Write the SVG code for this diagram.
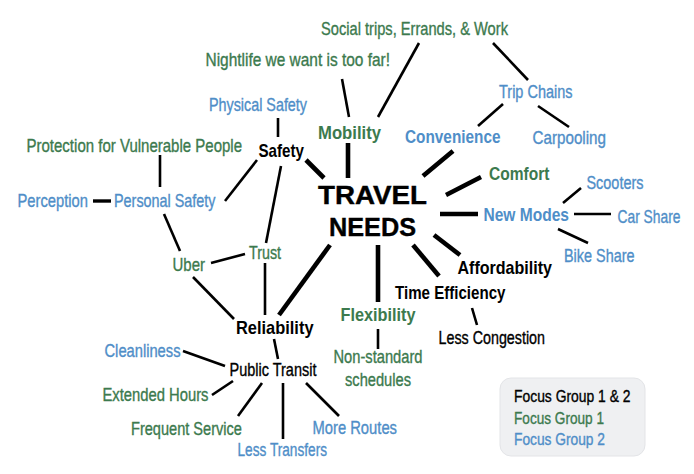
<svg xmlns="http://www.w3.org/2000/svg" width="694" height="474" viewBox="0 0 694 474">
<style>
text{font-family:"Liberation Sans",Arial,sans-serif;font-size:18px;stroke-width:0.35px}
.g{fill:#3c7a4e;stroke:#3c7a4e}.b{fill:#4f8ec8;stroke:#4f8ec8}.k{fill:#000;stroke:#000}
.bd{font-weight:bold;stroke-width:0}
.hub{font-family:"Liberation Sans",Arial,sans-serif;font-weight:900;font-size:26px;fill:#000;stroke:#000;stroke-width:0.4px}
.lg{font-size:16.5px}
.th{stroke:#000;stroke-width:2.6;fill:none}
.tk{stroke:#000;stroke-width:4.6;fill:none}
</style>
<rect width="694" height="474" fill="#fff"/>
<g id="connectors">
<line class="th" x1="342" y1="79" x2="349" y2="117"/>
<line class="th" x1="419" y1="43" x2="378" y2="117"/>
<line class="th" x1="493" y1="43" x2="528" y2="80"/>
<line class="th" x1="503" y1="104" x2="478" y2="126"/>
<line class="th" x1="538" y1="106" x2="569" y2="127"/>
<line class="th" x1="278" y1="118" x2="278" y2="137"/>
<line class="tk" x1="306" y1="160" x2="324" y2="178"/>
<line class="tk" x1="348" y1="143" x2="348" y2="178"/>
<line class="tk" x1="453" y1="151" x2="423" y2="176"/>
<line class="tk" x1="481" y1="177" x2="446" y2="195"/>
<line class="tk" x1="440" y1="214" x2="478" y2="214"/>
<line class="tk" x1="434" y1="235" x2="460" y2="255"/>
<line class="tk" x1="413" y1="245" x2="439" y2="276"/>
<line class="tk" x1="378" y1="245" x2="378" y2="302"/>
<line class="tk" x1="330" y1="245" x2="279" y2="315"/>
<line class="th" x1="160" y1="155" x2="160" y2="187"/>
<line class="th" x1="93" y1="201" x2="111" y2="201" style="stroke-width:3.4"/>
<line class="th" x1="257" y1="160" x2="225" y2="201"/>
<line class="th" x1="281" y1="166" x2="266" y2="243"/>
<line class="th" x1="164" y1="214" x2="180" y2="251"/>
<line class="th" x1="563" y1="203" x2="581" y2="188"/>
<line class="th" x1="574" y1="214" x2="611" y2="214"/>
<line class="th" x1="558" y1="229" x2="588" y2="243"/>
<line class="th" x1="472" y1="308" x2="477" y2="325"/>
<line class="th" x1="378" y1="329" x2="378" y2="349"/>
<line class="th" x1="211" y1="263" x2="245" y2="254"/>
<line class="th" x1="193" y1="277" x2="234" y2="319"/>
<line class="th" x1="265" y1="263" x2="265" y2="315"/>
<line class="th" x1="274" y1="339" x2="278" y2="359"/>
<line class="th" x1="183" y1="351" x2="225" y2="366"/>
<line class="th" x1="212" y1="395" x2="233" y2="381"/>
<line class="th" x1="238" y1="416" x2="262" y2="383"/>
<line class="th" x1="283" y1="383" x2="283" y2="439"/>
<line class="th" x1="306" y1="383" x2="339" y2="416"/>
</g>
<g id="hub"><text class="hub" x="318" y="204" textLength="109" lengthAdjust="spacingAndGlyphs">TRAVEL</text><text class="hub" x="329" y="236" textLength="87" lengthAdjust="spacingAndGlyphs">NEEDS</text></g>
<g id="social"><text class="g" transform="matrix(0.8 0 0 1 321 35)" textLength="233.7" lengthAdjust="spacingAndGlyphs">Social trips, Errands, &amp; Work</text></g>
<g id="nightlife"><text class="g" transform="matrix(0.8 0 0 1 205.5 65.5)" textLength="230.6" lengthAdjust="spacingAndGlyphs">Nightlife we want is too far!</text></g>
<g id="physical"><text class="b" transform="matrix(0.8 0 0 1 209 110.5)" textLength="122.5" lengthAdjust="spacingAndGlyphs">Physical Safety</text></g>
<g id="tripchains"><text class="b" transform="matrix(0.8 0 0 1 499 98)" textLength="91.9" lengthAdjust="spacingAndGlyphs">Trip Chains</text></g>
<g id="mobility"><text class="g bd" transform="matrix(0.8 0 0 1 318 139)" textLength="78.7" lengthAdjust="spacingAndGlyphs">Mobility</text></g>
<g id="convenience"><text class="b bd" transform="matrix(0.8 0 0 1 405 143)" textLength="119.4" lengthAdjust="spacingAndGlyphs">Convenience</text></g>
<g id="carpooling"><text class="b" transform="matrix(0.8 0 0 1 532.5 143.5)" textLength="91.9" lengthAdjust="spacingAndGlyphs">Carpooling</text></g>
<g id="protection"><text class="g" transform="matrix(0.8 0 0 1 26.5 151.5)" textLength="269.4" lengthAdjust="spacingAndGlyphs">Protection for Vulnerable People</text></g>
<g id="safety"><text class="k bd" transform="matrix(0.8 0 0 1 258.5 156.5)" textLength="56.9" lengthAdjust="spacingAndGlyphs">Safety</text></g>
<g id="comfort"><text class="g bd" transform="matrix(0.8 0 0 1 489 180)" textLength="75.6" lengthAdjust="spacingAndGlyphs">Comfort</text></g>
<g id="scooters"><text class="b" transform="matrix(0.8 0 0 1 586.5 189)" textLength="71.2" lengthAdjust="spacingAndGlyphs">Scooters</text></g>
<g id="perception"><text class="b" transform="matrix(0.8 0 0 1 17.5 206.5)" textLength="88.1" lengthAdjust="spacingAndGlyphs">Perception</text></g>
<g id="personal"><text class="b" transform="matrix(0.8 0 0 1 114 206.5)" textLength="126.9" lengthAdjust="spacingAndGlyphs">Personal Safety</text></g>
<g id="newmodes"><text class="b bd" transform="matrix(0.8 0 0 1 483.5 221)" textLength="106.9" lengthAdjust="spacingAndGlyphs">New Modes</text></g>
<g id="carshare"><text class="b" transform="matrix(0.8 0 0 1 617.5 222.5)" textLength="78.7" lengthAdjust="spacingAndGlyphs">Car Share</text></g>
<g id="trust"><text class="g" transform="matrix(0.8 0 0 1 249 259)" textLength="40" lengthAdjust="spacingAndGlyphs">Trust</text></g>
<g id="bikeshare"><text class="b" transform="matrix(0.8 0 0 1 564 262)" textLength="88.1" lengthAdjust="spacingAndGlyphs">Bike Share</text></g>
<g id="uber"><text class="g" transform="matrix(0.8 0 0 1 172.5 271)" textLength="40.6" lengthAdjust="spacingAndGlyphs">Uber</text></g>
<g id="affordability"><text class="k bd" transform="matrix(0.8 0 0 1 457.5 274)" textLength="118.1" lengthAdjust="spacingAndGlyphs">Affordability</text></g>
<g id="timeefficiency"><text class="k bd" transform="matrix(0.8 0 0 1 395 299)" textLength="138.1" lengthAdjust="spacingAndGlyphs">Time Efficiency</text></g>
<g id="flexibility"><text class="g bd" transform="matrix(0.8 0 0 1 340.5 320.5)" textLength="93.7" lengthAdjust="spacingAndGlyphs">Flexibility</text></g>
<g id="reliability"><text class="k bd" transform="matrix(0.8 0 0 1 236 334)" textLength="96.9" lengthAdjust="spacingAndGlyphs">Reliability</text></g>
<g id="lesscongestion"><text class="k" transform="matrix(0.8 0 0 1 438.5 344)" textLength="133.1" lengthAdjust="spacingAndGlyphs">Less Congestion</text></g>
<g id="cleanliness"><text class="b" transform="matrix(0.8 0 0 1 104.5 356.5)" textLength="95" lengthAdjust="spacingAndGlyphs">Cleanliness</text></g>
<g id="nonstandard"><text class="g" transform="matrix(0.8 0 0 1 333.5 363)" textLength="111.2" lengthAdjust="spacingAndGlyphs">Non-standard</text><text class="g" transform="matrix(0.8 0 0 1 345 385.5)" textLength="82.5" lengthAdjust="spacingAndGlyphs">schedules</text></g>
<g id="publictransit"><text class="k" transform="matrix(0.8 0 0 1 229.5 376)" textLength="108.7" lengthAdjust="spacingAndGlyphs">Public Transit</text></g>
<g id="extended"><text class="g" transform="matrix(0.8 0 0 1 102.5 400.5)" textLength="132.5" lengthAdjust="spacingAndGlyphs">Extended Hours</text></g>
<g id="frequent"><text class="g" transform="matrix(0.8 0 0 1 131 435)" textLength="138.7" lengthAdjust="spacingAndGlyphs">Frequent Service</text></g>
<g id="moreroutes"><text class="b" transform="matrix(0.8 0 0 1 312.5 434)" textLength="105.6" lengthAdjust="spacingAndGlyphs">More Routes</text></g>
<g id="lesstransfers"><text class="b" transform="matrix(0.8 0 0 1 237.5 456)" textLength="111.9" lengthAdjust="spacingAndGlyphs">Less Transfers</text></g>
<g id="legend">
<rect x="500" y="378" width="145" height="78" rx="11" fill="#eff0f2" stroke="#e3e4e7" stroke-width="1"/>
<text class="k lg" transform="matrix(0.8 0 0 1 514 402)" textLength="145.6" lengthAdjust="spacingAndGlyphs">Focus Group 1 &amp; 2</text>
<text class="g lg" transform="matrix(0.8 0 0 1 514 424)" textLength="112.5" lengthAdjust="spacingAndGlyphs">Focus Group 1</text>
<text class="b lg" transform="matrix(0.8 0 0 1 514 445)" textLength="113.7" lengthAdjust="spacingAndGlyphs">Focus Group 2</text>
</g>
</svg>
